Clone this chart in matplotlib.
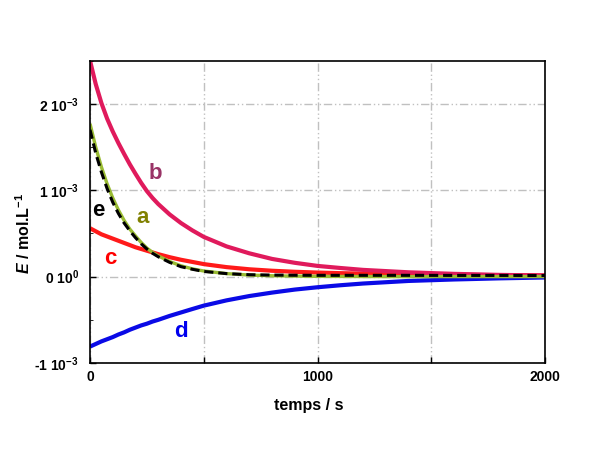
import matplotlib
matplotlib.use('Agg')
import matplotlib.pyplot as plt
from matplotlib.ticker import FixedLocator, MultipleLocator

plt.rcParams['font.family'] = ['Liberation Sans', 'DejaVu Sans']
plt.rcParams['font.weight'] = 'bold'
plt.rcParams['mathtext.fontset'] = 'custom'
plt.rcParams['mathtext.rm'] = 'Liberation Sans:bold'
plt.rcParams['mathtext.it'] = 'Liberation Sans:italic:bold'
plt.rcParams['mathtext.bf'] = 'Liberation Sans:bold'

# time (s)
t = [0, 25, 50, 75, 100, 125, 150, 175, 200, 225, 250, 275, 300, 350, 400,
     450, 500, 600, 700, 800, 900, 1000, 1100, 1200, 1400, 1600, 1800, 2000]

# E values in units of 1e-3 mol/L
a = [1.77, 1.50, 1.27, 1.075, 0.91, 0.77, 0.65, 0.55, 0.47, 0.395, 0.33,
     0.28, 0.24, 0.175, 0.125, 0.09, 0.065, 0.035, 0.018, 0.010, 0.006,
     0.003, 0.002, 0.001, 0.0, 0.0, 0.0, 0.0]
e = [1.70, 1.43, 1.21, 1.02, 0.86, 0.73, 0.62, 0.53, 0.45, 0.38, 0.32,
     0.27, 0.23, 0.165, 0.115, 0.085, 0.06, 0.035, 0.022, 0.018, 0.016,
     0.015, 0.015, 0.015, 0.015, 0.014, 0.014, 0.013]
b = [2.50, 2.23, 2.01, 1.83, 1.68, 1.545, 1.42, 1.30, 1.19, 1.085, 0.99,
     0.91, 0.84, 0.72, 0.62, 0.535, 0.46, 0.35, 0.27, 0.205, 0.16, 0.124,
     0.10, 0.078, 0.05, 0.032, 0.02, 0.013]
c = [0.56, 0.525, 0.49, 0.465, 0.44, 0.415, 0.39, 0.365, 0.34, 0.32, 0.30,
     0.28, 0.26, 0.225, 0.195, 0.17, 0.145, 0.11, 0.085, 0.068, 0.056,
     0.047, 0.04, 0.035, 0.027, 0.021, 0.017, 0.014]
d = [-0.81, -0.78, -0.75, -0.725, -0.70, -0.67, -0.645, -0.615, -0.59,
     -0.565, -0.545, -0.52, -0.50, -0.455, -0.415, -0.375, -0.336, -0.275,
     -0.225, -0.185, -0.15, -0.123, -0.10, -0.08, -0.05, -0.033, -0.02, -0.01]

yticks = [-1, 0, 1, 2]
ytick_labels = ['-1 10$^{-3}$', '0 10$^{0}$', '1 10$^{-3}$', '2 10$^{-3}$']
xticks = [0, 500, 1000, 1500, 2000]
xtick_labels = ['0', '', '1000', '', '2000']

fig = plt.figure(figsize=(6.05, 4.53), dpi=100)
ax = fig.add_axes([0.1488, 0.1987, 0.752, 0.6673])

grid_style = dict(color='#c0c0c0', linewidth=1, linestyle=(0, (6, 2, 1, 2, 1, 2)))
ax.grid(True, which='major', **grid_style)
ax.set_axisbelow(True)

ax.plot(t, d, color='#0a0ae6', linewidth=3, solid_capstyle='butt')
ax.plot(t, c, color='#ff1a1a', linewidth=3, solid_capstyle='butt')
ax.plot(t, b, color='#e01a5c', linewidth=3, solid_capstyle='butt')
ax.plot(t, a, color='#99bb33', linewidth=2.4, solid_capstyle='butt')
ax.plot(t, e, color='black', linewidth=2.2, linestyle=(0, (3, 1.6)))

# curve labels
ax.text(285, 1.19, 'b', color='#993366', fontsize=16, ha='center', va='center')
ax.text(230, 0.69, 'a', color='#808000', fontsize=16, ha='center', va='center')
ax.text(36, 0.77, 'e', color='black', fontsize=16, ha='center', va='center')
ax.text(90, 0.21, 'c', color='#ff0000', fontsize=16, ha='center', va='center')
ax.text(400, -0.64, 'd', color='#0000ee', fontsize=16, ha='center', va='center')

ax.set_xlim(0, 2000)
ax.set_ylim(-1, 2.5)
ax.xaxis.set_major_locator(FixedLocator(xticks))
ax.set_xticklabels(xtick_labels)
ax.yaxis.set_major_locator(FixedLocator(yticks))
ax.set_yticklabels(ytick_labels)
ax.yaxis.set_minor_locator(MultipleLocator(0.5))
ax.tick_params(axis='both', which='major', direction='in', length=4,
               labelsize=10, width=1)
ax.tick_params(axis='y', which='major', pad=8)
ax.tick_params(axis='x', which='major', pad=5)
ax.tick_params(axis='y', which='minor', direction='in', length=2)
ax.tick_params(top=False, right=False)
for s in ax.spines.values():
    s.set_linewidth(1.2)

ax.set_xlabel('temps / s', fontsize=11.5, fontweight='bold')
ax.xaxis.set_label_coords(0.48, -0.115)
ax.set_ylabel(r'$\mathit{E}$ / mol.L$^{-1}$', fontsize=11.5, fontweight='bold')
ax.yaxis.set_label_coords(-0.125, 0.43)

fig.savefig('out.png', dpi=100)
